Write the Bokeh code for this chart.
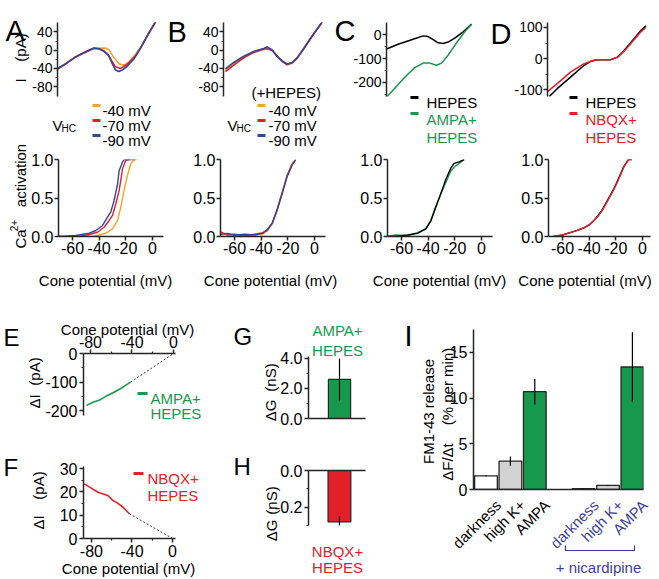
import math
from bokeh.plotting import figure
from bokeh.layouts import row, column
from bokeh.models import (Range1d, FixedTicker, NumeralTickFormatter, Label, GridBox)
from bokeh.embed import file_html
from bokeh.resources import INLINE

FONT = "Liberation Sans"
AX = "#262626"
YEL = "#f3a52c"
RED = "#e3202a"
BLUE = "#2f4799"
GREEN = "#16994c"
INDIGO = "#3d3f9c"
GRAY = "#d2d2d2"

# ---------------- data ----------------
# Panel A: I-V (mV, pA) for three HC holding potentials
a_v_yel = [-72, -65.8, -58.2, -50.5, -44.1, -40.2, -35.1, -32.5, -28.7, -24.8, -21.0, -17.2, -12.0, -6.8, -3.0, 3.4]
a_i_yel = [-41, -30, -15, -4, 4, 4.5, 4.5, 1.0, -16, -29.7, -33, -26.3, -9.2, 11.3, 30, 61]
a_v_red = [-72, -65.8, -58.2, -50.5, -44.1, -40.2, -36.4, -33.5, -31.2, -27.4, -23.5, -18.4, -12.0, -8.2, -3.0, 3.4]
a_i_red = [-42, -30.5, -15.5, -4.5, 3.8, 3.0, -1.5, -8.0, -19.5, -36.5, -40.0, -31.0, -12.7, 4.0, 31.0, 62.0]
a_v_blue = [-72, -65.8, -58.2, -50.5, -44.1, -40.2, -36.4, -32.5, -29.9, -27.4, -24.8, -22.2, -18.4, -13.3, -8.2, -3.0, 3.4]
a_i_blue = [-40, -29.7, -14.8, -3.7, 4.5, 3.1, -2.5, -12.7, -29.7, -43.5, -46.8, -43.5, -35.3, -19.5, 4.5, 31.8, 62.6]

# Panel B: I-V with HEPES
b_v = [-70.5, -64.1, -56.4, -48.7, -41.0, -38.4, -34.5, -30.7, -26.8, -23.0, -19.2, -15.3, -10.2, -3.8, 3.9]
b_i_yel = [-43, -29, -14.5, -3.5, 3.0, 5.0, 0.0, -13.5, -24.0, -31.0, -27.5, -17.0, 3.5, 31, 61.5]
b_i_red = [-47, -33, -17, -5, 2.0, 3.0, -0.5, -14.0, -25.0, -32.0, -28.0, -17.5, 3.0, 30.5, 61]
b_i_blue = [-41, -27, -13.5, -3, 3.7, 7.2, 0.4, -13.3, -23.6, -30.4, -27.1, -16.8, 3.7, 31, 61.7]

# Panel C: I-V HEPES vs AMPA+HEPES
c_v = [-70.5, -61.8, -51.7, -43.0, -39.3, -35.5, -31.8, -28.0, -24.3, -19.3, -13.0, -6.7]
c_i_hepes = [-60, -40, -21, -5, -8, -21, -34, -37, -31, -14, 12, 44]
c_v_ampa = [-70.5, -64.3, -56.8, -49.3, -43.0, -38.0, -33.0, -29.2, -24.3, -18.0, -11.8, -6.7]
c_i_ampa = [-262, -224, -178, -138, -119, -119, -128, -119, -86, -34, 12, 44]

# Panel D: I-V HEPES vs NBQX+HEPES
d_v_hepes = [-69.2, -63, -53, -43, -38, -33, -23, -18, -13, -6.7, -0.4, 3.3]
d_i_hepes = [-121, -95, -58, -21, -8, -3, -3, 5, 26, 58, 90, 105]
d_v_nbqx = [-70.5, -63, -53, -43, -35.5, -33, -23, -18, -13, -6.7, -0.4, 3.3]
d_i_nbqx = [-105, -79, -42, -16, -5, -3, -3, 4, 24, 55, 86, 100]

# Ca2+ activation curves
a2_v_yel = [-70.5, -45, -40, -36.3, -33.8, -30.0, -26.2, -23.8, -21.3, -18.8, -16.3, -13.8, -11.5]
a2_y_yel = [0.0, 0.0, 0.02, 0.035, 0.055, 0.1, 0.208, 0.38, 0.6, 0.792, 0.944, 1.0, 1.0]
a2_v_red = [-70.5, -55, -47.5, -41.3, -36.3, -32.5, -30.0, -27.5, -25.0, -23.8, -22.5, -20.0, -17.5, -13]
a2_y_red = [0.0, 0.0, 0.026, 0.055, 0.12, 0.208, 0.273, 0.425, 0.6, 0.73, 0.88, 0.99, 1.0, 1.0]
a2_v_blue = [-70.5, -67, -57.5, -47.5, -42.5, -37.5, -33.7, -31.3, -28.8, -26.2, -25.0, -22.5, -21.3, -17]
a2_y_blue = [0.0, 0.0, 0.013, 0.043, 0.078, 0.143, 0.251, 0.316, 0.468, 0.684, 0.857, 0.965, 1.0, 1.0]

b2_v = [-70.5, -65.5, -60, -52, -45, -39, -35.5, -31.7, -28, -24.2, -20.5, -16.7, -14.2]
b2_y_yel = [0.02, 0.03, 0.01, 0.02, 0.02, 0.03, 0.07, 0.16, 0.36, 0.58, 0.80, 0.95, 1.0]
b2_y_red = [0.06, 0.02, 0.03, 0.01, 0.03, 0.05, 0.08, 0.17, 0.34, 0.56, 0.79, 0.94, 0.99]
b2_y_blue = [0.03, 0.04, 0.02, 0.03, 0.02, 0.04, 0.09, 0.175, 0.35, 0.565, 0.78, 0.93, 1.0]

c2_v = [-70.5, -64.5, -55.5, -48, -41.8, -38, -34.5, -30.5, -26.8, -23, -20.5, -16.8, -13]
c2_y_hepes = [0.0, 0.0, 0.02, 0.04, 0.10, 0.20, 0.37, 0.56, 0.74, 0.89, 0.95, 0.97, 1.0]
c2_y_ampa = [0.0, 0.02, 0.01, 0.05, 0.10, 0.21, 0.38, 0.55, 0.70, 0.85, 0.90, 0.95, 1.0]

d2_v = [-66.8, -60, -54.3, -49, -44.3, -40, -36.8, -33.5, -30.5, -27.5, -24.3, -21.5, -19.3, -16.5, -14.3, -12, -10.5, -8]
d2_y_hepes = [0.0, 0.02, 0.05, 0.08, 0.11, 0.15, 0.2, 0.27, 0.34, 0.43, 0.53, 0.62, 0.70, 0.81, 0.90, 0.96, 1.0, 1.0]
d2_y_nbqx = [0.0, 0.02, 0.05, 0.08, 0.11, 0.15, 0.2, 0.26, 0.33, 0.42, 0.52, 0.61, 0.69, 0.80, 0.89, 0.96, 1.0, 1.0]

# Panel E / F: difference currents
e_v = [-83.9, -77, -70.4, -64, -57.5, -49.4, -41.4]
e_di = [-182, -170, -162, -148, -136, -120, -100.7]
e_fit_v = [-41.4, 0]
e_fit_i = [-100.7, 0]
f_v = [-87.1, -81.7, -73.5, -63.7, -58.8, -55.6, -49, -42.6]
f_di = [23.4, 22.0, 19.8, 18.4, 16.3, 15.6, 13.5, 10.6]
f_fit_v = [-42.6, 0]
f_fit_i = [10.6, 0]

# Panel G / H: conductance change
g_val = [2.6]
g_err = [1.4]
h_val = [-0.28]
h_err = [0.03]

# Panel I: FM1-43 release
i_cats = ["darkness", "high K+", "AMPA", "darkness", "high K+", "AMPA"]
i_vals = [1.5, 3.1, 10.7, 0.08, 0.45, 13.4]
i_err = [0.05, 0.5, 1.4, 0.03, 0.05, 3.8]
i_fill = ["white", GRAY, GREEN, "white", GRAY, GREEN]
i_text_color = ["black", "black", "black", INDIGO, INDIGO, INDIGO]
i_pos = [0, 1, 2, 4, 5, 6]

# ---------------- helpers ----------------
def make(fig_box, frame, xr, yr, xloc="below", yloc="left"):
    x0, y0, x1, y1 = fig_box
    l, t, r, b = frame
    p = figure(width=x1 - x0, height=y1 - y0, x_range=Range1d(*xr), y_range=Range1d(*yr),
               x_axis_location=xloc, y_axis_location=yloc, toolbar_location=None,
               output_backend="svg", title=None,
               min_border_left=l - x0, min_border_right=x1 - r,
               min_border_top=t - y0, min_border_bottom=y1 - b)
    p.outline_line_color = None
    p.grid.visible = False
    p.background_fill_color = None
    p.border_fill_color = "white"
    return p


def sty(ax, ticks, minor=(), fmt="0", size="14px", out=4, mout=2, standoff=2):
    ax.ticker = FixedTicker(ticks=list(ticks), minor_ticks=list(minor))
    ax.formatter = NumeralTickFormatter(format=fmt)
    ax.major_label_text_font = FONT
    ax.major_label_text_font_size = size
    ax.major_label_text_color = "black"
    ax.axis_line_color = AX
    ax.axis_line_width = 1.5
    ax.major_tick_line_color = AX
    ax.major_tick_line_width = 1.5
    ax.major_tick_out = out
    ax.major_tick_in = 0
    ax.minor_tick_line_color = AX
    ax.minor_tick_line_width = 1.2
    ax.minor_tick_out = mout
    ax.minor_tick_in = 0
    ax.major_label_standoff = standoff


def bare(ax):
    ax.ticker = FixedTicker(ticks=[])
    ax.axis_line_color = AX
    ax.axis_line_width = 1.5
    ax.major_tick_line_color = None
    ax.minor_tick_line_color = None
    ax.major_label_text_font_size = "0px"


# ---------------- row 1: I-V curves ----------------
A = make((0, 0, 167, 145), (57, 18, 160, 97), (-72, 7.2), (-101.5, 60.5), xloc=None)
sty(A.yaxis[0], [-80, -40, 0, 40], [-60, -20, 20], "0", "14px", standoff=1)
A.line(a_v_yel, a_i_yel, color=YEL, line_width=1.6)
A.line(a_v_red, a_i_red, color=RED, line_width=1.6)
A.line(a_v_blue, a_i_blue, color=BLUE, line_width=1.6)

B = make((167, 0, 333, 145), (223, 18, 325, 97), (-72, 6.5), (-101.5, 60.5), xloc=None)
sty(B.yaxis[0], [-80, -40, 0, 40], [-60, -20, 20], "0", "14px", standoff=1)
B.line(b_v, b_i_yel, color=YEL, line_width=1.6)
B.line(b_v, b_i_red, color=RED, line_width=1.6)
B.line(b_v, b_i_blue, color=BLUE, line_width=1.6)

C = make((333, 0, 490, 145), (386, 17, 474, 96), (-70.5, -4.5), (-258.8, 51), xloc=None)
sty(C.yaxis[0], [-200, -100, 0], [-250, -150, -50], "0", "14px", standoff=1)
C.line(c_v, c_i_hepes, color="black", line_width=1.5)
C.line(c_v_ampa, c_i_ampa, color=GREEN, line_width=1.5)

D = make((490, 0, 657, 145), (547, 22, 648, 97), (-70.5, 5.3), (-120.8, 115.8), xloc=None)
sty(D.yaxis[0], [-100, 0, 100], [-50, 50], "0", "14px", standoff=1)
D.line(d_v_hepes, d_i_hepes, color="black", line_width=1.5)
D.line(d_v_nbqx, d_i_nbqx, color=RED, line_width=1.5)


# ---------------- row 2: activation ----------------
def act(fig_box, frame):
    w = frame[2] - frame[0]
    p = make(fig_box, frame, (-70.5, -70.5 + w / 1.3333), (0, 1))
    sty(p.xaxis[0], [-60, -40, -20, 0], [], "0", "16px", standoff=1)
    sty(p.yaxis[0], [0, 0.5, 1], [], "0.0", "16px", standoff=1)
    return p


A2 = act((0, 145, 189, 290), (58, 159, 163, 236))
A2.line(a2_v_yel, a2_y_yel, color=YEL, line_width=1.4)
A2.line(a2_v_red, a2_y_red, color=RED, line_width=1.4)
A2.line(a2_v_blue, a2_y_blue, color=BLUE, line_width=1.4)

B2 = act((189, 145, 345, 290), (220, 159, 325, 236))
B2.line(b2_v, b2_y_yel, color=YEL, line_width=1.4)
B2.line(b2_v, b2_y_red, color=RED, line_width=1.4)
B2.line(b2_v, b2_y_blue, color=BLUE, line_width=1.4)

C2 = act((345, 145, 512, 290), (387, 159, 492, 236))
C2.line(c2_v, c2_y_ampa, color=GREEN, line_width=1.4)
C2.line(c2_v, c2_y_hepes, color="black", line_width=1.4)

D2 = act((512, 145, 657, 290), (548, 159, 650, 236))
D2.line(d2_v, d2_y_hepes, color="black", line_width=1.4)
D2.line(d2_v, d2_y_nbqx, color=RED, line_width=1.4)

# ---------------- row 3 ----------------
E = make((0, 290, 225, 435), (83, 353, 175, 415), (-86.7, 1.9), (-217.5, 0), xloc="above")
sty(E.xaxis[0], [-80, -40, 0], [-60, -20], "0", "16px", standoff=2)
sty(E.yaxis[0], [-200, -100, 0], [-150, -50], "0", "16px", standoff=2)
E.line(e_fit_v, e_fit_i, color="#333333", line_width=1, line_dash="2 2")
E.line(e_v, e_di, color=GREEN, line_width=1.6)

F = make((0, 435, 225, 577), (82, 466, 175, 538), (-87.8, 2.9), (0, 30.86))
sty(F.xaxis[0], [-80, -40, 0], [-60, -20], "0", "16px", standoff=2)
sty(F.yaxis[0], [0, 10, 20, 30], [5, 15, 25], "0", "16px", standoff=2)
F.line(f_fit_v, f_fit_i, color="#333333", line_width=1, line_dash="2 2")
F.line(f_v, f_di, color=RED, line_width=1.6)

G = make((225, 290, 400, 435), (308, 356, 365, 418), (0, 1), (0, 4.13))
bare(G.xaxis[0])
sty(G.yaxis[0], [0, 2, 4], [1, 3], "0.0", "16px", standoff=2)
G.vbar(x=[0.544], top=g_val, width=0.39, fill_color=GREEN, line_color=AX, line_width=1.2)
G.segment(x0=[0.544], y0=[g_val[0] - g_err[0]], x1=[0.544], y1=[g_val[0] + g_err[0]],
          color="black", line_width=1.2)

H = make((225, 435, 400, 577), (307, 470, 365, 525), (0, 1), (-0.3, 0), xloc="above")
bare(H.xaxis[0])
sty(H.yaxis[0], [-0.2, 0], [-0.3, -0.1], "0.0", "16px", standoff=2)
H.vbar(x=[0.543], top=[0], bottom=h_val, width=0.4, fill_color=RED, line_color=AX, line_width=1.2)
H.segment(x0=[0.543], y0=[h_val[0] - h_err[0]], x1=[0.543], y1=[h_val[0] + h_err[0]],
          color="black", line_width=1.2)

I_FRAME = (473, 329, 643, 489)
I_XR = (-0.512, 6.455)
I = make((400, 290, 657, 577), I_FRAME, I_XR, (0, 17.5))
bare(I.xaxis[0])
sty(I.yaxis[0], [0, 5, 10, 15], [], "0", "16px", standoff=2)
I.vbar(x=i_pos, top=i_vals, width=0.93, fill_color=i_fill, line_color=AX, line_width=1.3)
I.segment(x0=i_pos, y0=[v - e for v, e in zip(i_vals, i_err)], x1=i_pos,
          y1=[v + e for v, e in zip(i_vals, i_err)], color="black", line_width=1.2)

main = column(row(A, B, C, D), row(A2, B2, C2, D2),
              row(column(E, F), column(G, H), I))

# ---------------- text overlay (page pixel coordinates) ----------------
ov = figure(width=657, height=577, x_range=Range1d(0, 657), y_range=Range1d(577, 0),
            x_axis_location=None, y_axis_location=None, toolbar_location=None,
            output_backend="svg", title=None,
            min_border_left=0, min_border_right=0, min_border_top=0, min_border_bottom=0)
ov.outline_line_color = None
ov.background_fill_color = None
ov.border_fill_color = None
ov.grid.visible = False

VERT = math.pi / 2


def lab(wx, wy, text, size=15, color="black", angle=0.0, align="left"):
    ov.add_layout(Label(x=wx, y=wy, text=text, text_font=FONT, text_font_size=f"{size}px",
                        text_color=color, angle=angle, text_align=align,
                        text_baseline="alphabetic"))


def swatch(x0, x1, yy, color):
    ov.segment(x0=[x0], y0=[yy], x1=[x1], y1=[yy], line_color=color, line_width=3)


# panel letters
for ch, x, y, s in [("A", 5, 30, 29), ("B", 167, 31, 29), ("C", 334, 30, 29), ("D", 490, 33, 29),
                    ("E", 3, 337, 24), ("F", 3, 467, 24), ("G", 233, 336, 24), ("H", 233, 466, 24),
                    ("I", 404, 335, 29)]:
    lab(x, y, ch, s)

# y-axis titles
lab(20, 80, "I", 15, angle=VERT, align="center")
lab(20, 47, "(pA)", 15, angle=VERT, align="center")
lab(20, 175, "activation", 15, angle=VERT, align="center")
lab(20, 238.5, "Ca", 15, angle=VERT, align="center")
lab(13, 225, "2+", 10, angle=VERT, align="center")
lab(34, 401, "ΔI", 15, angle=VERT, align="center")
lab(34, 371, "(pA)", 15, angle=VERT, align="center")
lab(38, 522, "ΔI", 15, angle=VERT, align="center")
lab(38, 485, "(pA)", 15, angle=VERT, align="center")
lab(270, 410, "ΔG", 15, angle=VERT, align="center")
lab(270, 377, "(nS)", 15, angle=VERT, align="center")
lab(271, 530, "ΔG", 15, angle=VERT, align="center")
lab(271, 500, "(nS)", 15, angle=VERT, align="center")
lab(428, 411, "FM1-43 release", 15, angle=VERT, align="center")
lab(447, 461.5, "ΔF/Δt", 15, angle=VERT, align="center")
lab(447, 386, "(% per min)", 15, angle=VERT, align="center")

# x-axis titles
for cx, by in [(105, 280), (270, 280), (439, 280), (584.5, 280), (127, 329), (128, 568)]:
    lab(cx, by, "Cone potential (mV)", 15, align="center")

# legends A / B
for vx, sx, tx in [(52, 92, 102), (227, 257, 268)]:
    lab(vx, 125, "V", 15)
    lab(vx + 9, 128, "HC", 10)
    for yy, col, txt in [(105, YEL, "-40 mV"), (120, RED, "-70 mV"), (135, BLUE, "-90 mV")]:
        swatch(sx, sx + 8, yy, col)
        lab(tx, yy + 5.3, txt, 15)
lab(251, 91.5, "(+HEPES)", 15)

# legends C / D
swatch(410, 418, 97, "black")
lab(426, 102, "HEPES", 15)
swatch(410, 418, 113, GREEN)
lab(426, 118.5, "AMPA+", 15, GREEN)
lab(426, 136.5, "HEPES", 15, GREEN)
swatch(569, 577, 97, "black")
lab(585, 102, "HEPES", 15)
swatch(569, 577, 113, RED)
lab(585, 118.5, "NBQX+", 15, RED)
lab(585, 136.5, "HEPES", 15, RED)

# legends E / F / G / H
swatch(137, 147, 393, GREEN)
lab(150, 398, "AMPA+", 15, GREEN)
lab(150, 413, "HEPES", 15, GREEN)
swatch(133, 143, 473, RED)
lab(147, 478, "NBQX+", 15, RED)
lab(147, 495, "HEPES", 15, RED)
lab(337, 330, "AMPA+", 15, GREEN, align="center")
lab(337, 350, "HEPES", 15, GREEN, align="center")
lab(337, 551, "NBQX+", 15, RED, align="center")
lab(337, 567, "HEPES", 15, RED, align="center")

# panel I category labels, placed under the bars of panel I
i_scale = (I_FRAME[2] - I_FRAME[0]) / (I_XR[1] - I_XR[0])
for pos, txt, col in zip(i_pos, i_cats, i_text_color):
    px = I_FRAME[0] + (pos + 0.5 - I_XR[0]) * i_scale
    lab(px, 502, txt, 15, col, angle=math.pi / 4, align="right")
ov.line([565, 565, 634, 634], [545, 550, 550, 545], line_color=INDIGO, line_width=1.2)
lab(598, 567, "+ nicardipine", 15, INDIGO, align="center")

page = GridBox(children=[(main, 0, 0), (ov, 0, 0)])

open("out.html", "w").write(file_html(page, INLINE, "Figure"))
